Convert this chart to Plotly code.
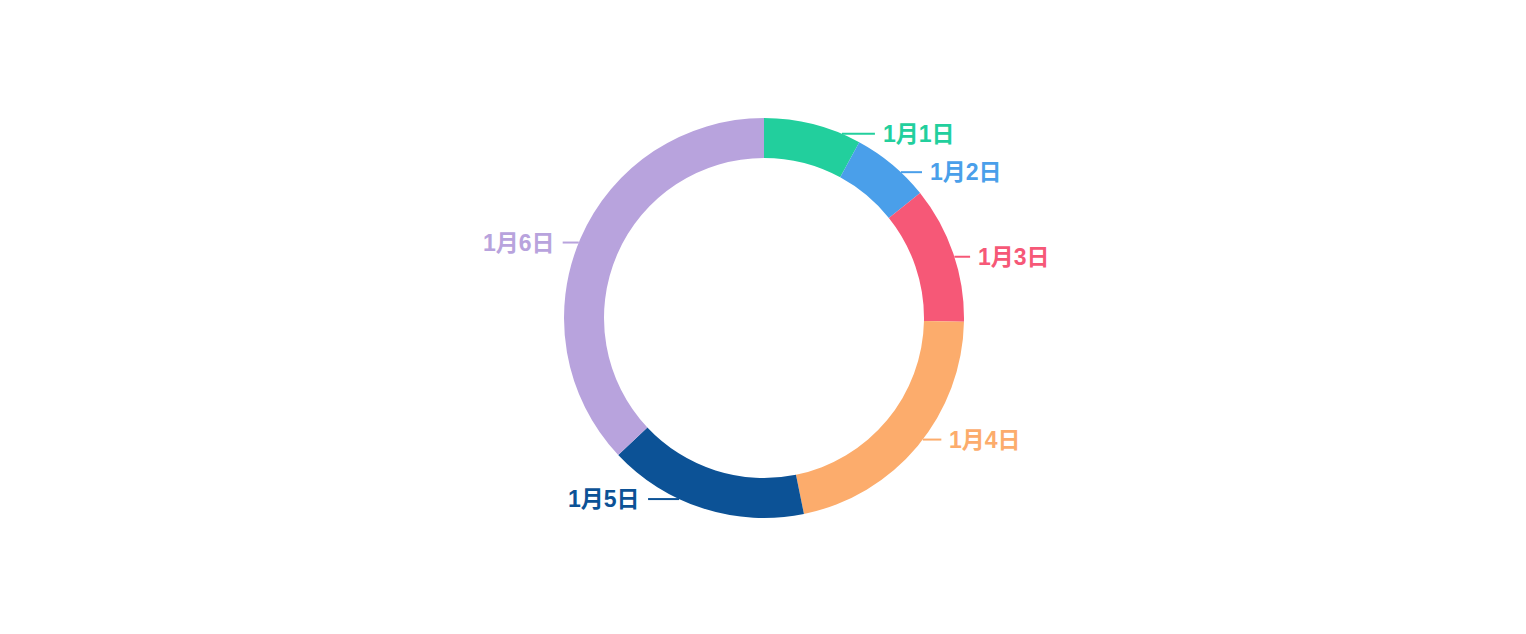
import numpy as np
import plotly.graph_objects as go

# Data
labels = ["1月1日", "1月2日", "1月3日", "1月4日", "1月5日", "1月6日"]
values = [7.9, 6.35, 11.05, 21.5, 16.2, 37.0]
colors = ["#22CF9D", "#4A9FEA", "#F65877", "#FCAC6C", "#0C5296", "#B8A3DD"]

# page body has an 8px margin, so the figure is sized to fit inside it
W, H = 1510, 618
cx, cy = 756, 310     # ring centre in figure pixels (from top-left)
R = 200               # outer radius
r_lab = 190           # radius used for label height
r_end = 215           # leader line end radius

fig = go.Figure()

fig.add_trace(go.Pie(
    labels=labels,
    values=values,
    hole=0.8,
    sort=False,
    direction="clockwise",
    rotation=0,
    textinfo="none",
    marker=dict(colors=colors, line=dict(width=0)),
    showlegend=False,
    domain=dict(x=[(cx - R) / W, (cx + R) / W],
                y=[1 - (cy + R) / H, 1 - (cy - R) / H]),
))

# leader lines + labels, placed from the slice mid angles
vals = np.array(values, dtype=float)
cum = np.cumsum(vals) / vals.sum()
mids = (cum - vals / vals.sum() / 2) * 2 * np.pi

annotations = []
for lab, col, a in zip(labels, colors, mids):
    dy = -r_lab * np.cos(a)
    side = 1 if np.sin(a) >= 0 else -1
    x0 = cx + side * np.sqrt(R ** 2 - dy ** 2)
    x1 = cx + side * np.sqrt(r_end ** 2 - dy ** 2)
    y = cy + dy
    fig.add_trace(go.Scatter(
        x=[x0, x1], y=[y, y], mode="lines",
        line=dict(color=col, width=2),
        hoverinfo="skip", showlegend=False,
    ))
    annotations.append(dict(
        x=x1 + side * 6, y=y, xref="x", yref="y",
        text=lab, showarrow=False,
        xanchor="left" if side > 0 else "right", yanchor="middle",
        font=dict(size=23, color=col, weight="bold",
                  family="Liberation Sans, Noto Sans CJK SC, sans-serif"),
    ))

fig.update_layout(
    width=W, height=H,
    margin=dict(l=0, r=0, t=0, b=0),
    paper_bgcolor="white",
    plot_bgcolor="rgba(0,0,0,0)",
    xaxis=dict(range=[0, W], visible=False, fixedrange=True),
    yaxis=dict(range=[H, 0], visible=False, fixedrange=True),
    annotations=annotations,
)

fig.write_html("out.html")
